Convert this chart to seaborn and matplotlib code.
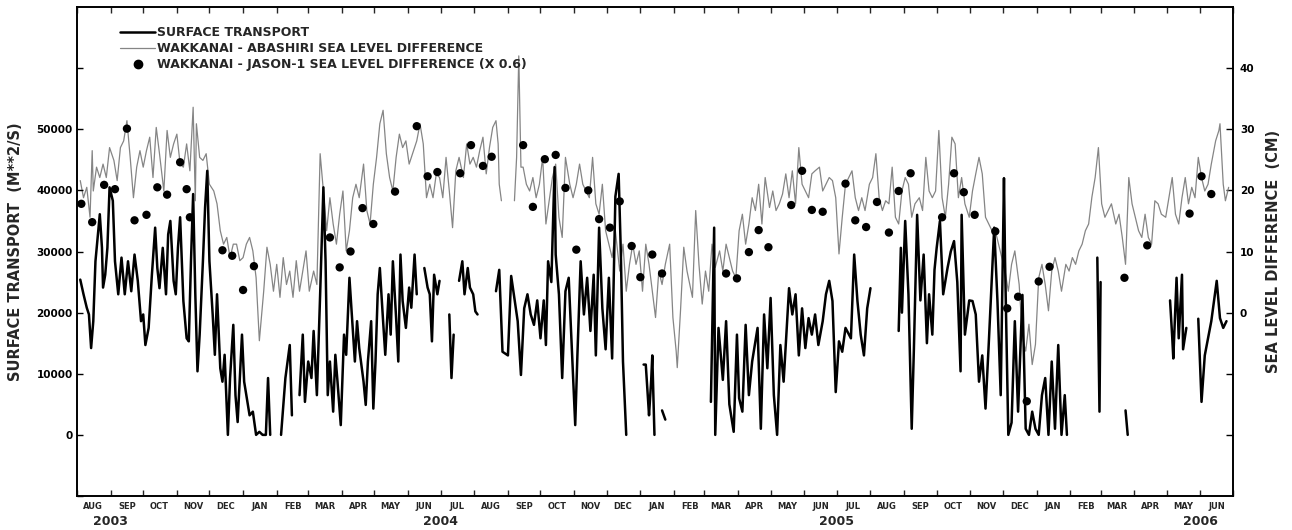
import numpy as np
import pandas as pd
import matplotlib
matplotlib.use("Agg")
import matplotlib.pyplot as plt
import matplotlib.dates as mdates
from matplotlib.lines import Line2D
from matplotlib.ticker import FuncFormatter
import seaborn as sns

nan = float("nan")
START = pd.Timestamp("2003-08-01")
END = pd.Timestamp("2006-07-01")

# surface transport, (days since 2003-08-01, thousand m**2/s); nan marks a data gap
transport_obs = [
    (3, 25.4), (6, 23.0), (9, 20.8), (11, 19.7), (13, 14.2), (15, 18.6), (17, 28.4), (21, 36.1), (23, 30.6), (24, 24.1),
    (26, 26.2), (28, 30.6), (30, 40.5), (33, 38.3), (35, 28.4), (38, 23.0), (41, 29.0), (44, 23.0), (47, 28.4), (50, 23.5),
    (53, 29.5), (56, 25.2), (59, 18.6), (61, 19.7), (63, 14.7), (66, 17.5), (69, 26.2), (72, 33.9), (74, 27.3), (76, 24.0),
    (79, 30.6), (82, 23.0), (84, 32.8), (86, 35.0), (89, 25.2), (91, 23.0), (93, 30.6), (95, 35.6), (98, 21.9), (101, 15.8),
    (103, 15.3), (105, 28.4), (107, 39.4), (109, 23.0), (111, 10.4), (113, 16.4), (116, 28.4), (118, 37.2), (120, 43.2),
    (122, 28.4), (125, 19.7), (127, 13.1), (129, 23.0), (132, 10.9), (134, 8.7), (136, 13.1), (139, 0.0), (141, 9.3),
    (144, 18.0), (146, 6.5), (148, 2.1), (152, 16.4), (154, 8.7), (156, 6.5), (159, 3.2), (162, 3.8), (165, 0.0), (168, 0.5),
    (171, 0.0), (174, 0.0), (176, 9.3), (178, 0.0), (183, nan), (188, 0.0), (192, 9.3), (196, 14.7), (198, 3.2), (201, nan),
    (205, 6.5), (208, 16.4), (210, 5.4), (213, 12.0), (216, 9.3), (218, 17.0), (221, 6.5), (224, 23.0), (227, 40.5),
    (229, 28.4), (231, 6.5), (233, 12.0), (236, 3.8), (238, 13.1), (240, 8.7), (243, 1.6), (246, 16.4), (248, 13.1),
    (251, 25.7), (253, 20.2), (256, 12.0), (258, 18.6), (260, 14.2), (264, 8.7), (266, 4.9), (268, 12.0), (271, 18.6),
    (273, 4.3), (275, 12.0), (277, 23.0), (279, 27.3), (282, 18.6), (284, 13.1), (287, 23.0), (289, 16.4), (291, 28.4),
    (294, 19.1), (296, 12.0), (298, 29.5), (300, 21.9), (303, 17.5), (306, 24.1), (308, 20.8), (311, 29.5), (313, 23.0),
    (317, nan), (320, 27.3), (323, 24.1), (325, 23.0), (327, 15.3), (329, 26.2), (332, 23.0), (334, 25.2), (338, nan),
    (343, 19.7), (345, 9.3), (347, 16.4), (350, nan), (352, 25.2), (355, 28.4), (357, 23.0), (360, 27.3), (362, 24.1),
    (365, 23.0), (367, 20.2), (369, 19.7), (378, nan), (386, 23.5), (389, 27.0), (392, 13.6), (397, 13.0), (400, 26.0),
    (406, 18.6), (409, 9.8), (412, 20.7), (415, 23.0), (418, 19.7), (421, 18.0), (424, 22.0), (427, 15.8), (430, 22.0),
    (432, 14.7), (434, 28.4), (437, 25.0), (440, 43.8), (441, 29.5), (444, 23.0), (447, 9.3), (450, 23.5), (453, 25.7),
    (459, 1.6), (461, 13.0), (464, 28.4), (467, 19.7), (470, 25.7), (473, 17.0), (476, 26.2), (478, 13.0), (481, 33.9),
    (484, 20.7), (487, 14.0), (490, 25.7), (493, 12.5), (496, 39.0), (499, 42.7), (501, 30.0), (503, 12.0), (506, 0.0),
    (514, nan), (522, 11.5), (524, 11.5), (526, 6.0), (527, 3.2), (529, 9.0), (530, 13.0), (532, 0.0), (535, nan),
    (539, 4.0), (542, 2.5), (560, nan), (584, 5.4), (587, 33.9), (588, 0.0), (591, 17.5), (595, 9.0), (598, 18.6),
    (601, 5.0), (605, 0.5), (608, 16.4), (610, 6.0), (613, 3.8), (616, 18.0), (619, 6.5), (622, 12.0), (627, 17.5),
    (630, 1.0), (633, 19.7), (636, 10.9), (639, 22.4), (642, 6.5), (645, 0.0), (648, 14.7), (651, 8.7), (656, 24.0),
    (659, 19.7), (662, 23.0), (665, 13.0), (668, 20.7), (671, 14.2), (674, 19.1), (677, 16.4), (680, 19.7), (683, 14.7),
    (687, 18.6), (690, 23.0), (693, 25.2), (696, 21.9), (699, 7.0), (702, 15.3), (705, 13.6), (708, 17.5), (713, 15.8),
    (716, 29.5), (719, 21.9), (722, 16.4), (725, 13.0), (728, 20.7), (731, 24.0), (745, nan), (757, 17.0), (759, 30.6),
    (760, 20.0), (763, 35.0), (766, 23.0), (769, 1.0), (771, 14.0), (774, 36.0), (777, 22.0), (780, 29.5), (783, 15.0),
    (785, 23.0), (788, 16.4), (790, 27.0), (792, 30.6), (795, 35.0), (798, 23.0), (802, 27.3), (805, 30.0), (808, 31.7),
    (811, 25.0), (814, 10.4), (815, 36.0), (818, 16.4), (822, 22.0), (825, 21.9), (828, 19.7), (831, 8.7), (834, 13.0),
    (837, 4.3), (840, 15.0), (845, 33.9), (848, 21.9), (851, 6.5), (854, 42.0), (855, 28.4), (858, 0.0), (861, 2.0),
    (864, 18.6), (867, 3.8), (871, 22.9), (874, 1.0), (877, 0.0), (880, 3.8), (883, 1.0), (886, 0.0), (889, 6.5),
    (892, 9.3), (895, 0.0), (898, 12.0), (901, 1.0), (904, 14.7), (907, 0.0), (910, 6.5), (912, 0.0), (925, nan),
    (940, 29.0), (942, 3.8), (943, 25.0), (955, nan), (966, 4.0), (968, 0.0), (990, nan), (1007, 22.0), (1009, 16.0),
    (1010, 12.5), (1013, 25.7), (1015, 15.8), (1018, 26.2), (1019, 14.0), (1022, 17.5), (1028, nan), (1033, 19.0),
    (1036, 5.4), (1039, 13.0), (1042, 15.8), (1045, 18.6), (1050, 25.2), (1053, 19.1), (1056, 17.5), (1059, 18.6),
]

# Wakkanai - Abashiri sea level difference, (days since 2003-08-01, cm)
sld_obs = [
    (3, 21.6), (6, 18.8), (9, 20.5), (12, 15.6), (14, 26.5), (15, 19.9), (18, 23.8), (21, 22.1), (24, 24.3), (27, 22.1),
    (30, 27.0), (34, 24.9), (37, 21.6), (40, 27.0), (43, 28.1), (46, 31.4), (49, 25.4), (52, 18.8), (55, 23.8), (58, 26.5),
    (61, 23.8), (64, 26.5), (67, 28.7), (70, 22.1), (73, 30.3), (76, 26.0), (80, 19.9), (83, 29.8), (86, 25.4), (89, 27.6),
    (92, 29.2), (95, 24.3), (98, 23.8), (101, 27.6), (104, 23.2), (107, 33.6), (109, 18.3), (110, 30.9), (113, 25.4),
    (116, 24.9), (119, 26.0), (122, 21.0), (126, 19.9), (129, 17.8), (132, 13.4), (135, 11.2), (138, 12.3), (141, 9.0),
    (144, 11.2), (147, 11.2), (150, 8.5), (153, 9.0), (156, 11.2), (159, 12.3), (162, 10.1), (165, 5.7), (168, -4.6),
    (172, 3.5), (175, 10.7), (178, 7.9), (181, 3.5), (184, 7.9), (187, 2.5), (190, 9.0), (193, 4.6), (196, 6.8), (199, 2.5),
    (202, 8.5), (205, 3.5), (208, 6.8), (211, 10.1), (214, 3.5), (218, 6.8), (221, 4.6), (224, 26.0), (227, 19.9),
    (230, 13.4), (233, 18.8), (236, 14.5), (239, 11.2), (242, 16.1), (245, 19.9), (248, 10.1), (251, 13.4), (254, 18.8),
    (257, 21.0), (260, 18.8), (264, 24.3), (267, 16.7), (270, 14.5), (273, 21.0), (276, 25.4), (279, 30.9), (282, 33.1),
    (285, 26.0), (288, 22.1), (291, 19.9), (294, 25.4), (297, 29.2), (300, 27.0), (303, 28.1), (306, 24.3), (310, 26.5),
    (313, 28.1), (316, 30.9), (319, 27.6), (322, 18.8), (325, 21.0), (328, 18.8), (331, 22.7), (334, 22.1), (337, 18.8),
    (340, 25.4), (343, 19.9), (346, 13.9), (349, 23.2), (352, 25.4), (356, 22.1), (359, 27.6), (362, 24.3), (365, 25.4),
    (368, 23.8), (371, 26.5), (374, 28.7), (377, 22.7), (380, 27.0), (383, 30.3), (386, 31.4), (388, 27.6), (389, 21.0),
    (391, 18.3), (396, nan), (403, 18.3), (405, 25.4), (407, 42.0), (409, 23.8), (411, 23.8), (414, 21.0), (417, 19.9),
    (420, 22.1), (423, 18.8), (426, 21.0), (429, 25.4), (432, 14.5), (435, 18.3), (438, 22.1), (441, 24.3), (444, 15.6),
    (447, 12.3), (450, 25.4), (454, 21.0), (457, 18.8), (460, 21.0), (463, 24.3), (466, 21.0), (469, 19.9), (472, 18.8),
    (475, 25.4), (478, 17.8), (481, 16.1), (484, 21.0), (487, 13.4), (490, 11.2), (493, 9.0), (496, 13.4), (500, 6.8),
    (503, 11.2), (506, 3.5), (509, 7.9), (512, 11.2), (515, 7.9), (518, 10.1), (521, 3.5), (524, 11.2), (527, 7.9),
    (530, 3.5), (533, -0.8), (536, 6.8), (539, 4.6), (542, 7.9), (546, 11.2), (549, -0.8), (552, -6.3), (553, -9.0),
    (556, 0.3), (559, 10.7), (562, 6.8), (567, 2.5), (570, 16.7), (573, 7.9), (576, 1.4), (579, 6.8), (582, 3.5),
    (585, 11.2), (588, 7.4), (592, 10.1), (595, 6.8), (598, 11.2), (601, 9.0), (604, 6.8), (607, 5.7), (610, 13.4),
    (613, 16.1), (616, 11.2), (619, 14.5), (622, 18.8), (625, 16.7), (628, 21.0), (631, 14.5), (634, 22.1), (638, 17.2),
    (641, 19.9), (644, 16.7), (647, 17.8), (650, 19.4), (653, 22.7), (656, 18.8), (659, 23.2), (662, 17.8), (665, 27.0),
    (668, 21.0), (671, 19.9), (674, 18.8), (677, 22.7), (680, 23.2), (684, 23.8), (687, 19.9), (690, 21.0), (693, 22.1),
    (696, 21.6), (699, 18.8), (702, 9.6), (705, 15.6), (708, 21.0), (711, 22.1), (714, 23.2), (717, 18.8), (720, 16.7),
    (723, 18.8), (726, 16.7), (730, 21.0), (733, 22.1), (736, 26.0), (739, 18.8), (742, 16.7), (745, 18.3), (748, 17.8),
    (751, 23.8), (754, 15.6), (757, 14.5), (760, 19.9), (763, 22.1), (766, 21.0), (769, 15.6), (772, 17.8), (776, 18.8),
    (779, 16.7), (782, 25.4), (785, 19.9), (788, 18.8), (791, 19.9), (794, 29.8), (797, 18.8), (800, 15.6), (803, 21.0),
    (806, 28.7), (809, 27.6), (812, 18.8), (815, 22.1), (818, 17.8), (822, 15.6), (825, 19.9), (828, 22.7), (831, 25.4),
    (834, 22.7), (837, 15.6), (840, 14.5), (843, 13.4), (846, 13.4), (849, 11.2), (852, 9.0), (855, 6.8), (858, 3.5),
    (861, 7.9), (864, 10.1), (868, 4.6), (871, -4.1), (874, -6.3), (877, -1.9), (880, -8.5), (883, -5.2), (886, 5.7),
    (889, 7.9), (892, 4.6), (895, 0.3), (898, 6.8), (901, 9.0), (904, 6.8), (907, 3.5), (911, 7.9), (914, 6.8), (917, 9.0),
    (920, 7.9), (923, 10.1), (926, 11.2), (929, 13.4), (932, 14.5), (935, 18.9), (938, 22.1), (941, 27.0), (944, 17.8),
    (947, 15.6), (950, 16.7), (953, 17.8), (957, 14.5), (960, 16.1), (963, 12.3), (966, 7.9), (969, 22.1), (972, 17.8),
    (975, 15.6), (978, 13.4), (981, 12.3), (984, 16.1), (987, 12.3), (990, 11.2), (993, 18.3), (996, 17.8), (999, 16.1),
    (1003, 15.6), (1006, 18.8), (1009, 22.1), (1012, 16.1), (1015, 14.5), (1018, 18.8), (1021, 22.1), (1024, 17.8),
    (1027, 20.5), (1030, 18.8), (1033, 25.4), (1036, 22.1), (1039, 19.9), (1042, 21.0), (1045, 24.3), (1049, 28.1),
    (1052, 29.8), (1053, 30.9), (1056, 21.0), (1058, 18.3), (1061, 20.5),
]

# Wakkanai - Jason-1 sea level difference x 0.6, (days since 2003-08-01, cm)
jason_obs = [
    (4, 17.8), (14, 14.8), (25, 20.9), (35, 20.2), (46, 30.1), (53, 15.1), (64, 16.0), (74, 20.5), (83, 19.3), (95, 24.6),
    (101, 20.2), (104, 15.6), (134, 10.2), (143, 9.3), (153, 3.7), (163, 7.6), (233, 12.3), (242, 7.4), (252, 10.0),
    (263, 17.1), (273, 14.5), (293, 19.8), (313, 30.5), (323, 22.3), (332, 23.0), (353, 22.8), (363, 27.4), (374, 24.0),
    (382, 25.5), (411, 27.4), (420, 17.3), (431, 25.1), (441, 25.8), (450, 20.4), (460, 10.3), (471, 20.0), (481, 15.3),
    (491, 13.9), (500, 18.2), (511, 10.9), (519, 5.8), (530, 9.5), (539, 6.4), (598, 6.4), (608, 5.6), (619, 9.9),
    (628, 13.5), (637, 10.7), (658, 17.6), (668, 23.2), (677, 16.8), (687, 16.5), (708, 21.1), (717, 15.1), (727, 14.0),
    (737, 18.1), (748, 13.1), (757, 19.9), (768, 22.8), (797, 15.6), (808, 22.8), (817, 19.7), (827, 16.0), (846, 13.3),
    (857, 0.7), (867, 2.6), (875, -14.5), (886, 5.1), (896, 7.5), (965, 5.7), (986, 11.0), (1025, 16.2), (1036, 22.3),
    (1045, 19.4),
]

left_tick_values = [-10000, 0, 10000, 20000, 30000, 40000, 50000, 60000]
left_tick_labels = ["", "0", "10000", "20000", "30000", "40000", "50000", ""]
right_tick_values = [-20, -10, 0, 10, 20, 30, 40]
right_tick_labels = ["", "", "0", "10", "20", "30", "40"]
year_labels = ["2003", "2004", "2005", "2006"]
year_label_dates = ["2003-09-01", "2004-07-01", "2005-07-01", "2006-06-01"]
legend_labels = [
    "SURFACE TRANSPORT",
    "WAKKANAI - ABASHIRI SEA LEVEL DIFFERENCE",
    "WAKKANAI - JASON-1 SEA LEVEL DIFFERENCE (X 0.6)",
]


def frame(obs, scale=1.0):
    df = pd.DataFrame(obs, columns=["day", "val"])
    df["val"] = df["val"] * scale
    df["date"] = START + pd.to_timedelta(df["day"], unit="D")
    df["seg"] = df["val"].isna().cumsum()
    return df.dropna().reset_index(drop=True)


tr_df = frame(transport_obs, 1000.0)
sl_df = frame(sld_obs)
ja_df = frame(jason_obs)

sns.set_theme(style="ticks")
plt.rcParams["font.family"] = ["DejaVu Sans"]
plt.rcParams["font.weight"] = "bold"

W, H = 1292, 530
L, R, T, B = 77, 1233, 7, 496
fig = plt.figure(figsize=(W / 100, H / 100), dpi=100)
fig.patch.set_facecolor("white")
ax = fig.add_axes([L / W, 1 - B / H, (R - L) / W, (B - T) / H])
ax_r = ax.twinx()
ax_d = ax.twinx()
ax_r.set_zorder(1)
ax.set_zorder(2)
ax_d.set_zorder(3)
ax.patch.set_visible(False)
ax_r.patch.set_visible(False)
ax_d.patch.set_visible(False)

GRAY = "#858585"
sns.lineplot(data=sl_df, x="date", y="val", units="seg", estimator=None, ax=ax_r,
             color=GRAY, linewidth=0.9, legend=False)
sns.lineplot(data=tr_df, x="date", y="val", units="seg", estimator=None, ax=ax,
             color="black", linewidth=1.8, legend=False)
sns.scatterplot(data=ja_df, x="date", y="val", ax=ax_d, color="black", s=36,
                edgecolor="none", legend=False, zorder=5)

for a in (ax, ax_r, ax_d):
    a.set_xlabel("")
    a.set_ylabel("")
ax.set_xlim(START, END)
ax.set_ylim(-10000, 70000)
ax_r.set_ylim(-30, 50)
ax_d.set_ylim(-30, 50)
ax_d.axis("off")

ax.set_yticks(left_tick_values)
ax.set_yticklabels(left_tick_labels)
ax_r.set_yticks(right_tick_values)
ax_r.set_yticklabels(right_tick_labels)
ax.tick_params(axis="y", which="major", direction="in", length=4, width=1.0,
               labelsize=7.5, pad=3, left=True, right=False, colors="black")
ax_r.tick_params(axis="y", which="major", direction="in", length=5, width=1.0,
                 labelsize=7.5, pad=5, right=True, left=False, colors="black")

ax.xaxis.set_major_locator(mdates.MonthLocator())
ax.xaxis.set_minor_locator(mdates.MonthLocator(bymonthday=16))
ax.xaxis.set_major_formatter(FuncFormatter(lambda x, p: ""))
ax.xaxis.set_minor_formatter(FuncFormatter(lambda x, p: mdates.num2date(x).strftime("%b").upper()))
ax.tick_params(axis="x", which="major", direction="in", length=4, width=1.0,
               top=True, bottom=True, labelbottom=False)
ax.tick_params(axis="x", which="minor", length=0, labelsize=6, pad=4, labelbottom=True)

for a in (ax, ax_r):
    for s in a.spines.values():
        s.set_linewidth(1.2)
        s.set_color("black")

xt = ax.get_xaxis_transform()
for lab, d in zip(year_labels, year_label_dates):
    ax.text(pd.Timestamp(d), -0.053, lab, transform=xt, ha="center", va="center",
            fontsize=9, fontweight="bold", clip_on=False)

fig.text(16 / W, 1 - 251.5 / H, "SURFACE TRANSPORT  (M**2/S)", rotation=90,
         ha="center", va="center", fontsize=10.5, fontweight="bold")
fig.text(1273 / W, 1 - 251.5 / H, "SEA LEVEL DIFFERENCE  (CM)", rotation=90,
         ha="center", va="center", fontsize=10.5, fontweight="bold")

handles = [
    Line2D([], [], color="black", linewidth=1.8),
    Line2D([], [], color=GRAY, linewidth=0.9),
    Line2D([], [], linestyle="none", marker="o", color="black", markersize=6),
]
ax_d.legend(handles, legend_labels, loc="upper left", bbox_to_anchor=(0.0372, 0.961),
            frameon=False, prop={"size": 9, "weight": "bold"}, handlelength=2.8,
            handletextpad=0.15, labelspacing=0.25, borderpad=0, borderaxespad=0)

fig.savefig("out.png", dpi=100)
